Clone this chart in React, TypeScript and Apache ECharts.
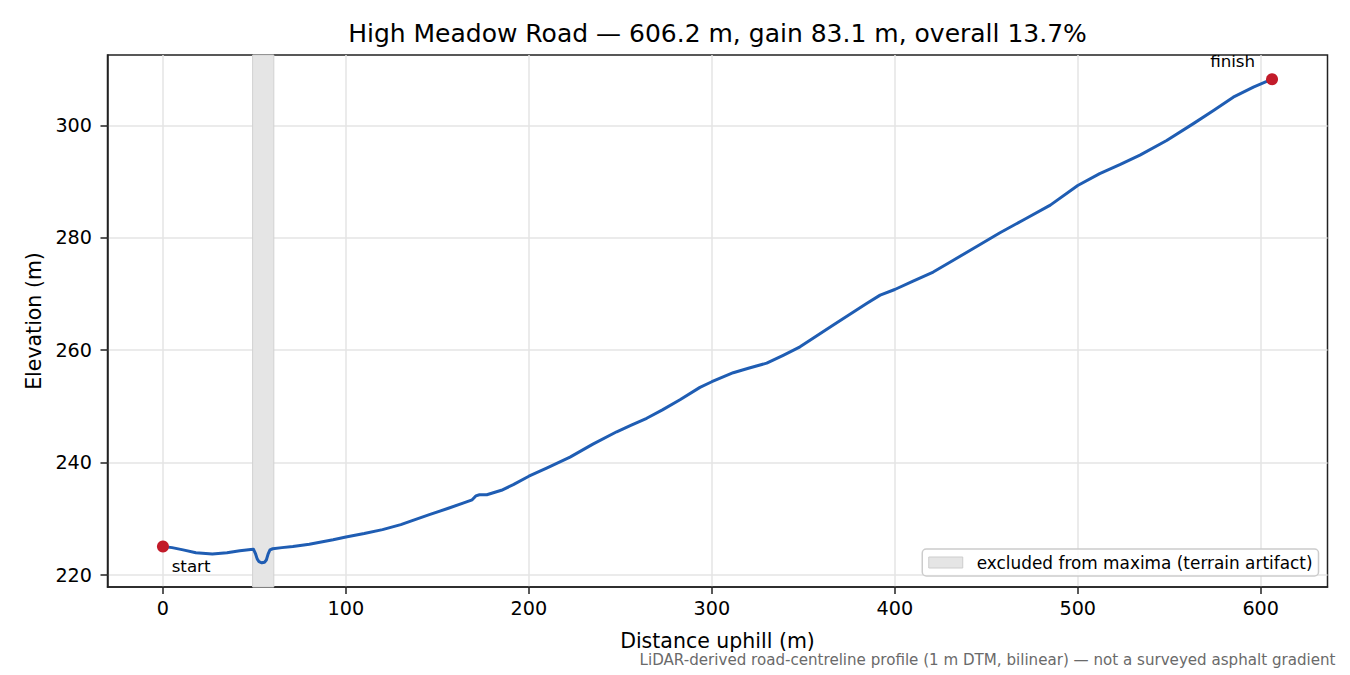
import React, { useEffect, useRef } from "react";
import * as echarts from "echarts";

// ---- data ----
const distance = [0, 5, 11, 18, 27, 35, 42, 48, 49.5, 50.5, 51.5, 52.5, 54, 55.5, 56.5, 57.5, 58.5, 60, 65, 71, 80, 93, 100, 110, 120, 130, 137, 146, 156, 164, 169, 171, 173, 177, 185, 191.5, 200, 210, 222.5, 235, 248, 256, 264.4, 273, 282.6, 293.5, 300, 311.7, 320, 330, 339, 348.2, 357, 366.4, 375.5, 384.6, 392, 400, 410, 421, 432, 445, 457.5, 471, 485, 500, 512, 523, 534, 548.6, 563.2, 574, 585, 596, 606.2];
const elevation = [225.1, 224.9, 224.5, 224.0, 223.75, 224.0, 224.35, 224.55, 224.6, 223.9, 222.9, 222.4, 222.2, 222.3, 222.7, 223.8, 224.5, 224.7, 224.9, 225.1, 225.5, 226.3, 226.8, 227.4, 228.1, 229.0, 229.8, 230.8, 231.9, 232.8, 233.4, 234.1, 234.3, 234.3, 235.1, 236.1, 237.6, 239.1, 241.0, 243.3, 245.5, 246.7, 247.9, 249.4, 251.2, 253.4, 254.4, 256.0, 256.8, 257.7, 259.1, 260.6, 262.5, 264.5, 266.4, 268.3, 269.8, 270.8, 272.3, 273.9, 276.0, 278.5, 280.9, 283.3, 285.8, 289.3, 291.4, 293.0, 294.7, 297.3, 300.3, 302.6, 305.0, 306.8, 308.2];
const excludedBand = [49.0, 60.6];
const xTicks = [0, 100, 200, 300, 400, 500, 600];
const yTicks = [220, 240, 260, 280, 300];
const endpointLabels = ["start", "finish"];

const titleText = "High Meadow Road — 606.2 m, gain 83.1 m, overall 13.7%";
const xName = "Distance uphill (m)";
const yName = "Elevation (m)";
const bandName = "excluded from maxima (terrain artifact)";
const footnote = "LiDAR-derived road-centreline profile (1 m DTM, bilinear) — not a surveyed asphalt gradient";

const FONT = "DejaVu Sans";

export default function App() {
  const ref = useRef<HTMLDivElement>(null);

  useEffect(() => {
    if (!ref.current) return;
    const chart = echarts.init(ref.current, null, { renderer: "svg" });

    const xSpan = distance[distance.length - 1] - distance[0];
    const xMin = distance[0] - xSpan * 0.05;
    const xMax = distance[distance.length - 1] + xSpan * 0.05;
    const eMin = Math.min(...elevation);
    const eMax = Math.max(...elevation);
    const ySpan = eMax - eMin;
    const yMin = eMin - ySpan * 0.05;
    const yMax = eMax + ySpan * 0.05;

    const lineData = distance.map((d, i) => [d, elevation[i]]);
    const last = distance.length - 1;

    const axisCommon = {
      axisLine: { show: true, onZero: false, lineStyle: { color: "#222", width: 1.5 } },
      axisTick: { show: true, length: 7, inside: false, lineStyle: { color: "#222", width: 1.5 } },
      splitLine: { show: true, lineStyle: { color: "#e4e4e4", width: 1.5 } },
      nameTextStyle: { fontFamily: FONT, fontSize: 20.5, color: "#000" },
    };

    chart.setOption({
      animation: false,
      textStyle: { fontFamily: FONT },
      grid: {
        left: 107.5,
        right: 22.5,
        top: 55,
        bottom: 88,
        show: true,
        borderColor: "#222",
        borderWidth: 1.5,
        backgroundColor: "transparent",
        containLabel: false,
        outerBoundsMode: "none",
      },
      xAxis: {
        type: "value",
        min: xMin,
        max: xMax,
        splitNumber: 7,
        ...axisCommon,
        axisTick: { ...axisCommon.axisTick, customValues: xTicks },
        axisLabel: {
          customValues: xTicks,
          fontFamily: FONT,
          fontSize: 19.2,
          color: "#000",
          margin: 12,
        },
        name: xName,
        nameLocation: "middle",
        nameGap: 43,
      },
      yAxis: {
        type: "value",
        min: yMin,
        max: yMax,
        splitNumber: 5,
        ...axisCommon,
        axisTick: { ...axisCommon.axisTick, customValues: yTicks },
        axisLabel: {
          customValues: yTicks,
          fontFamily: FONT,
          fontSize: 19.2,
          color: "#000",
          margin: 15.5,
        },
        name: yName,
        nameLocation: "middle",
        nameGap: 63,
      },
      legend: {
        show: true,
        right: 31.5,
        top: 549,
        orient: "horizontal",
        padding: [5, 6, 5, 6],
        borderColor: "#cccccc",
        borderWidth: 1.5,
        borderRadius: 4,
        backgroundColor: "rgba(255,255,255,0.85)",
        itemWidth: 34,
        itemHeight: 11,
        textStyle: { fontFamily: FONT, fontSize: 16.9, color: "#000", padding: [0, 0, 0, 9] },
        data: [
          {
            name: bandName,
            icon: "rect",
            itemStyle: { color: "#e5e5e5", borderColor: "#cdcdcd", borderWidth: 1 },
          },
        ],
      },
      graphic: [
        {
          type: "text",
          x: 717.5,
          y: 33.5,
          style: {
            text: titleText,
            fontFamily: FONT,
            fontSize: 25,
            fill: "#000",
            textAlign: "center",
            textVerticalAlign: "middle",
          },
        },
        {
          type: "text",
          x: 1335.5,
          y: 660,
          style: {
            text: footnote,
            fontFamily: FONT,
            fontSize: 15.1,
            fill: "#6a6a6a",
            textAlign: "right",
            textVerticalAlign: "middle",
          },
        },
      ],
      series: [
        {
          name: bandName,
          type: "line",
          data: [],
          z: 1,
          itemStyle: { color: "#e5e5e5" },
          lineStyle: { color: "#e5e5e5" },
          markArea: {
            silent: true,
            itemStyle: { color: "#e5e5e5", borderColor: "#d2d2d2", borderWidth: 1 },
            data: [[{ xAxis: excludedBand[0] }, { xAxis: excludedBand[1] }]],
          },
        },
        {
          name: "profile",
          type: "line",
          data: lineData,
          showSymbol: false,
          symbol: "none",
          z: 3,
          lineStyle: { color: "#1f5db3", width: 3, join: "round", cap: "round" },
          itemStyle: { color: "#1f5db3" },
        },
        {
          name: "ends",
          type: "scatter",
          z: 4,
          symbolSize: 12,
          itemStyle: { color: "#c21b2a", opacity: 1 },
          clip: false,
          data: [
            {
              value: [distance[0], elevation[0]],
              label: {
                show: true,
                formatter: endpointLabels[0],
                position: [14.7, 25],
                align: "left",
                verticalAlign: "middle",
                fontFamily: FONT,
                fontSize: 16.7,
                color: "#000",
              },
            },
            {
              value: [distance[last], elevation[last]],
              label: {
                show: true,
                formatter: endpointLabels[1],
                position: [-33.4, -12.3],
                align: "center",
                verticalAlign: "middle",
                fontFamily: FONT,
                fontSize: 16.7,
                color: "#000",
              },
            },
          ],
        },
      ],
    });

    return () => {
      chart.dispose();
    };
  }, []);

  return (
    <div
      ref={ref}
      style={{ position: "fixed", left: 0, top: 0, width: 1350, height: 675, background: "#fff" }}
    />
  );
}
